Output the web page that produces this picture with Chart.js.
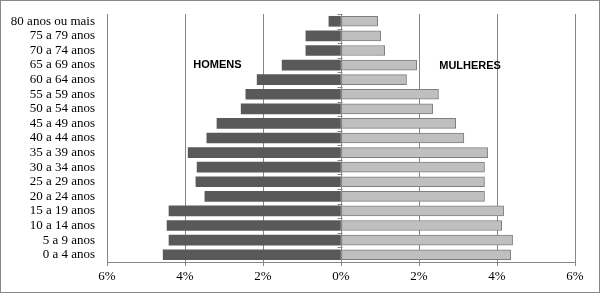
<!DOCTYPE html>
<html>
<head>
<meta charset="utf-8">
<script src="https://cdn.jsdelivr.net/npm/chart.js@4"></script>
<style>
  html, body { margin: 0; padding: 0; background: #fff; }
  #wrap { width: 600px; height: 294px; position: relative; }
</style>
</head>
<body>
<div id="wrap"><canvas id="piramide" width="600" height="294"></canvas></div>
<script>
// faixas etárias (de cima para baixo)
const faixas = ['80 anos ou mais', '75 a 79 anos', '70 a 74 anos', '65 a 69 anos', '60 a 64 anos',
  '55 a 59 anos', '50 a 54 anos', '45 a 49 anos', '40 a 44 anos', '35 a 39 anos', '30 a 34 anos',
  '25 a 29 anos', '20 a 24 anos', '15 a 19 anos', '10 a 14 anos', '5 a 9 anos', '0 a 4 anos'];

// % da população (homens à esquerda, negativos)
const homens = [-0.31, -0.90, -0.90, -1.51, -2.15, -2.44, -2.56, -3.18, -3.44, -3.92, -3.69,
  -3.72, -3.49, -4.41, -4.46, -4.41, -4.56];
const mulheres = [0.94, 1.02, 1.12, 1.94, 1.68, 2.50, 2.35, 2.94, 3.15, 3.76, 3.68,
  3.68, 3.68, 4.17, 4.12, 4.40, 4.35];

const xTicks = [-6, -4, -2, 0, 2, 4, 6];

const serif = '"Liberation Serif", "Times New Roman", serif';

// rótulos HOMENS / MULHERES e marquinhas no eixo 0
const extras = {
  id: 'extras',
  afterDatasetsDraw(chart) {
    const c = chart.ctx, x = chart.scales.x, y = chart.scales.y;
    const x0 = Math.round(x.getPixelForValue(0)) + 0.5;
    c.save();
    c.strokeStyle = '#868686';
    c.lineWidth = 1;
    c.beginPath();
    c.moveTo(x0, chart.chartArea.top);
    c.lineTo(x0, chart.chartArea.bottom);
    const step = (y.getPixelForValue(1) - y.getPixelForValue(0));
    for (let i = 0; i <= faixas.length; i++) {
      const py = Math.round(y.getPixelForValue(0) - step / 2 + i * step) + 0.5;
      c.moveTo(x0 - 4, py);
      c.lineTo(x0 + 1, py);
    }
    c.stroke();

    c.fillStyle = '#000';
    c.font = 'bold 11px "Liberation Sans", Arial, sans-serif';
    c.textAlign = 'center';
    c.textBaseline = 'middle';
    const yRot = y.getPixelForValue(3);
    c.fillText('HOMENS', x.getPixelForValue(-3.17), yRot);
    c.fillText('MULHERES', x.getPixelForValue(3.31), yRot + 1);

    // moldura
    c.strokeStyle = '#888';
    c.strokeRect(0.5, 0.5, chart.width - 1, chart.height - 2);
    c.restore();
  }
};

new Chart(document.getElementById('piramide'), {
  type: 'bar',
  data: {
    labels: faixas,
    datasets: [
      {
        label: 'Homens',
        data: homens,
        backgroundColor: '#595959',
        borderWidth: 0,
        barThickness: 10
      },
      {
        label: 'Mulheres',
        data: mulheres,
        backgroundColor: '#bfbfbf',
        borderColor: '#7f7f7f',
        borderWidth: 1,
        borderSkipped: false,
        barThickness: 10
      }
    ]
  },
  options: {
    indexAxis: 'y',
    responsive: false,
    animation: false,
    devicePixelRatio: 1,
    layout: { padding: { left: 0, right: 25, top: 14, bottom: 0 } },
    plugins: { legend: { display: false }, tooltip: { enabled: false } },
    scales: {
      x: {
        stacked: true,
        min: -6,
        max: 6,
        afterBuildTicks(scale) { scale.ticks = xTicks.map(v => ({ value: v })); },
        afterFit(scale) {
          scale.height = 32;
          scale.paddingLeft = 0;
          scale.paddingRight = 0;
        },
        grid: { color: '#868686', tickLength: 4, drawTicks: true },
        border: { display: true, color: '#868686' },
        ticks: {
          padding: 3,
          color: '#000',
          font: { family: serif, size: 13 },
          callback: v => Math.abs(v) + '%'
        }
      },
      y: {
        stacked: true,
        afterFit(scale) {
          scale.width = 107;
          scale.paddingTop = 0;
          scale.paddingBottom = 0;
        },
        grid: { display: false, drawTicks: false },
        border: { display: false },
        ticks: {
          padding: 12,
          color: '#000',
          autoSkip: false,
          font: { family: serif, size: 13 }
        }
      }
    }
  },
  plugins: [extras]
});
</script>
</body>
</html>
